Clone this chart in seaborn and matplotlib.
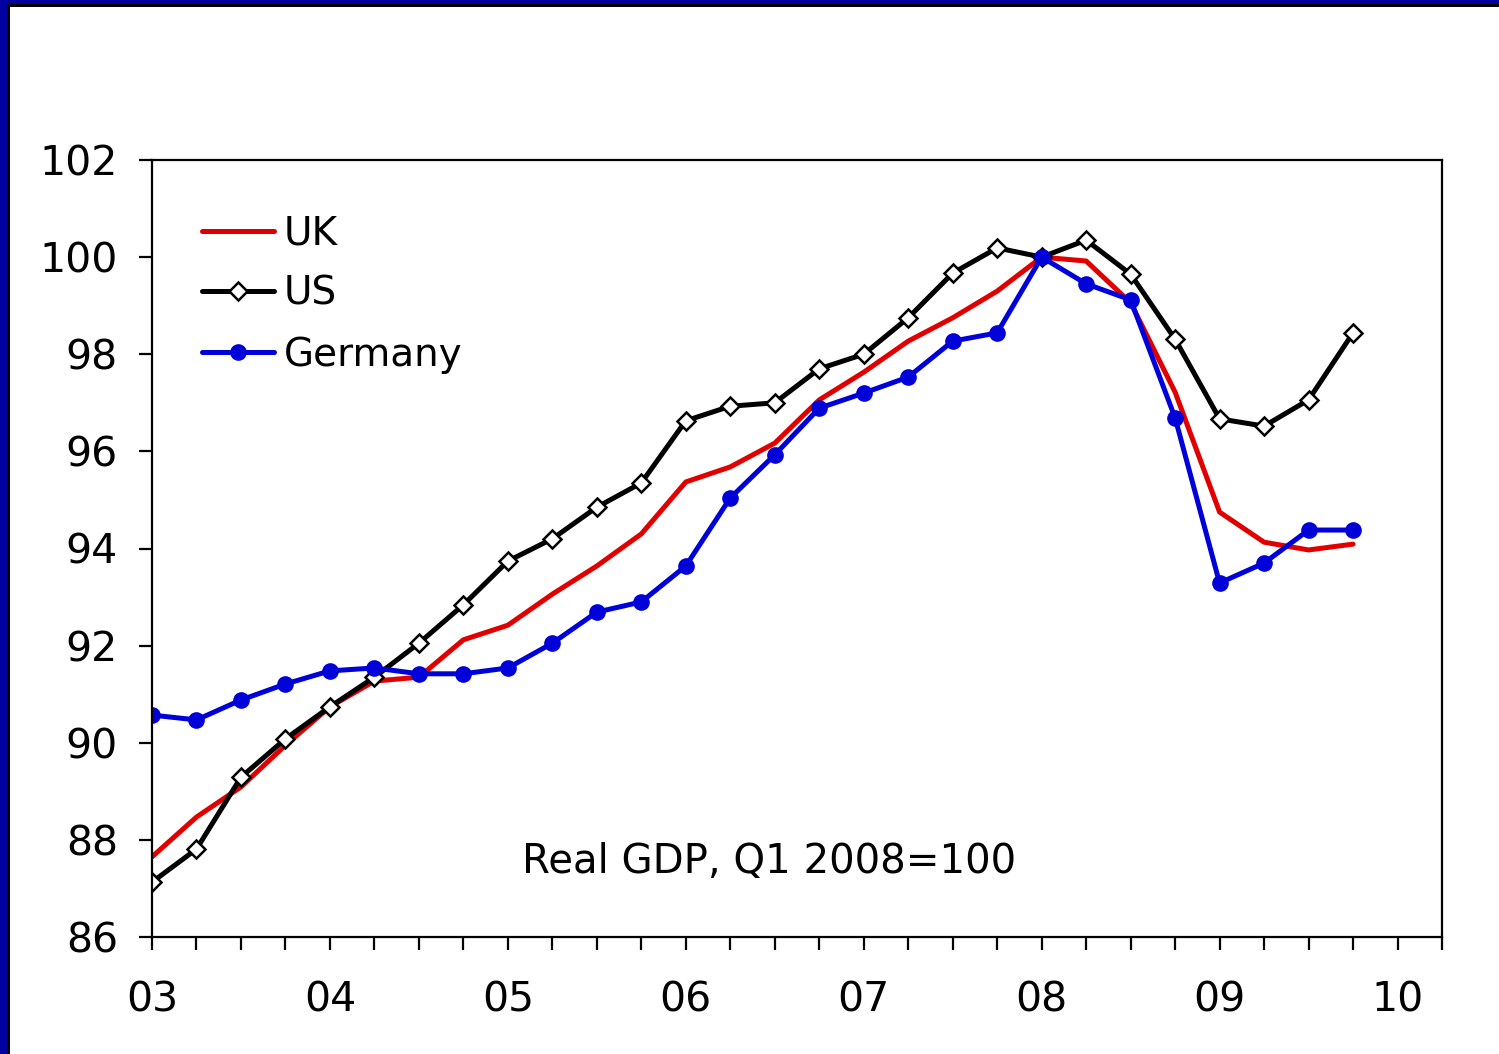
import numpy as np
import pandas as pd
import matplotlib
matplotlib.use("Agg")
import matplotlib.pyplot as plt
from matplotlib.patches import Rectangle
import seaborn as sns

# Quarterly time axis 2003Q1 .. 2009Q4 (years as 2-digit numbers)
quarters = [3 + 0.25 * i for i in range(28)]

uk = [87.65, 88.47, 89.09, 89.95, 90.74, 91.27, 91.35, 92.12, 92.42, 93.06,
      93.64, 94.30, 95.37, 95.68, 96.17, 97.06, 97.63, 98.27, 98.75, 99.30,
      100.0, 99.92, 99.06, 97.22, 94.75, 94.13, 93.97, 94.09]
us = [87.13, 87.81, 89.29, 90.08, 90.74, 91.35, 92.05, 92.84, 93.74, 94.20,
      94.85, 95.35, 96.63, 96.93, 97.00, 97.70, 98.00, 98.75, 99.67, 100.19,
      100.0, 100.35, 99.65, 98.31, 96.67, 96.52, 97.06, 98.44]
germany = [90.57, 90.47, 90.88, 91.21, 91.48, 91.54, 91.42, 91.42, 91.54, 92.05,
           92.69, 92.90, 93.64, 95.04, 95.93, 96.89, 97.20, 97.53, 98.27, 98.44,
           100.0, 99.45, 99.12, 96.69, 93.29, 93.70, 94.38, 94.38]

year_ticks = [3, 4, 5, 6, 7, 8, 9, 10]
year_labels = ["03", "04", "05", "06", "07", "08", "09", "10"]
y_ticks = [86, 88, 90, 92, 94, 96, 98, 100, 102]
annotation = "Real GDP, Q1 2008=100"

sns.set_style("white")
plt.rcParams['font.family'] = ['DejaVu Sans']
plt.rcParams['text.color'] = 'black'
plt.rcParams['xtick.color'] = 'black'
plt.rcParams['ytick.color'] = 'black'
plt.rcParams['axes.labelcolor'] = 'black'

W, H = 1499, 1054
fig = plt.figure(figsize=(W / 100, H / 100), dpi=100)
fig.patch.set_facecolor("white")
ax = fig.add_axes([152 / W, 1 - 937 / H, (1442 - 152) / W, (937 - 160) / H])

df = pd.DataFrame({"q": quarters, "UK": uk, "US": us, "Germany": germany})

sns.lineplot(data=df, x="q", y="UK", ax=ax, color="#e00000", linewidth=3.6,
             label="UK")
sns.lineplot(data=df, x="q", y="US", ax=ax, color="black", linewidth=3.6,
             marker="D", markersize=9, markerfacecolor="white",
             markeredgecolor="black", markeredgewidth=1.8, label="US")
sns.lineplot(data=df, x="q", y="Germany", ax=ax, color="#0000d8", linewidth=3.6,
             marker="o", markersize=12, markeredgewidth=0, label="Germany")

ax.set_xlim(3, 10.25)
ax.set_ylim(86, 102)
ax.set_xticks(year_ticks)
ax.set_xticklabels(year_labels)
ax.set_xticks([3 + 0.25 * i for i in range(30)], minor=True)
ax.set_yticks(y_ticks)
ax.set_yticklabels([str(v) for v in y_ticks])
ax.set_xlabel("")
ax.set_ylabel("")

ax.tick_params(axis="both", which="both", direction="out", length=9.5, width=1.6,
               color="black", bottom=True, left=True)
ax.tick_params(axis="x", which="major", labelsize=29.5, pad=22)
ax.tick_params(axis="y", which="major", labelsize=29.5, pad=15)
for s in ax.spines.values():
    s.set_visible(True)
    s.set_color("black")
    s.set_linewidth(1.6)

ax.text(0.478, 0.097, annotation, transform=ax.transAxes, ha="center",
        va="center", fontsize=29, color="black")

leg = ax.legend(loc="upper left", bbox_to_anchor=(0.027, 0.95), frameon=False,
                fontsize=28, handlelength=1.83, handletextpad=0.26,
                labelspacing=0.58, borderaxespad=0)

# slide border (blue with black inner line) on left and top
fig.add_artist(Rectangle((0, 0), 7 / W, 1, transform=fig.transFigure,
                         facecolor="#0000a0", edgecolor="none", zorder=10))
fig.add_artist(Rectangle((0, 1 - 4 / H), 1, 4 / H, transform=fig.transFigure,
                         facecolor="#0000a0", edgecolor="none", zorder=10))
fig.add_artist(Rectangle((7 / W, 0), 2.5 / W, 1 - 4 / H, transform=fig.transFigure,
                         facecolor="black", edgecolor="none", zorder=10))
fig.add_artist(Rectangle((7 / W, 1 - 6.5 / H), 1, 2.5 / H, transform=fig.transFigure,
                         facecolor="black", edgecolor="none", zorder=10))

fig.savefig("out.png", dpi=100)
